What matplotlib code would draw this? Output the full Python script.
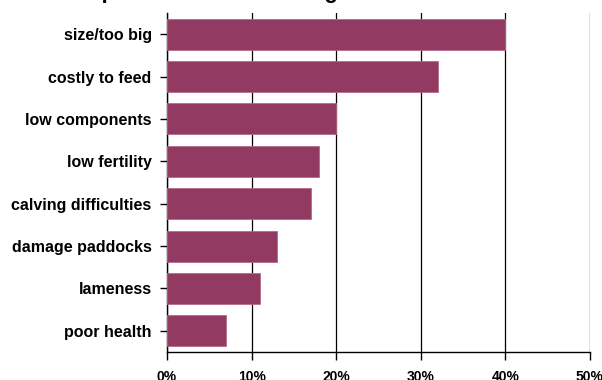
import matplotlib
matplotlib.use("Agg")
import matplotlib.pyplot as plt
from matplotlib.ticker import FuncFormatter

# reasons given, top to bottom
reasons = ["size/too big", "costly to feed", "low components", "low fertility",
           "calving difficulties", "damage paddocks", "lameness", "poor health"]
percent = [40, 32, 20, 18, 17, 13, 11, 7]
xticks = [0, 10, 20, 30, 40, 50]

plt.rcParams['font.family'] = ['Liberation Sans', 'DejaVu Sans']
plt.rcParams['font.weight'] = 'bold'

fig = plt.figure(figsize=(6.02, 3.80), dpi=100)
ax = fig.add_axes([167/602, 1-352/380, (590-167)/602, (352-13)/380])

ypos = list(range(len(reasons)))
ax.barh(ypos, percent, height=0.73, color='#933a63', edgecolor='#b56a8a',
        linewidth=0.6, zorder=3)

ax.set_ylim(len(reasons)-0.5, -0.5)
ax.set_xlim(0, 50)
ax.set_xticks(xticks)
ax.xaxis.set_major_formatter(FuncFormatter(lambda v, p: '%d%%' % v))
ax.set_yticks(ypos)
ax.set_yticklabels(reasons)

ax.tick_params(axis='y', length=5, width=1, pad=6, labelsize=11.5)
ax.tick_params(axis='x', length=6, width=1, pad=7, labelsize=10)
for lab in ax.get_xticklabels() + ax.get_yticklabels():
    lab.set_fontweight('bold')

ax.xaxis.grid(True, color='black', linewidth=0.9, zorder=0)
ax.set_axisbelow(True)
for s in ['top', 'right']:
    ax.spines[s].set_visible(False)
ax.spines['left'].set_linewidth(1)
ax.spines['bottom'].set_linewidth(1)

# title sits mostly above the top edge
fig.text(0.075, 1.006, "Main problems with the larger Friesian cows",
         fontsize=16, fontweight='bold', ha='left', va='baseline')

fig.savefig("out.png", dpi=100)
